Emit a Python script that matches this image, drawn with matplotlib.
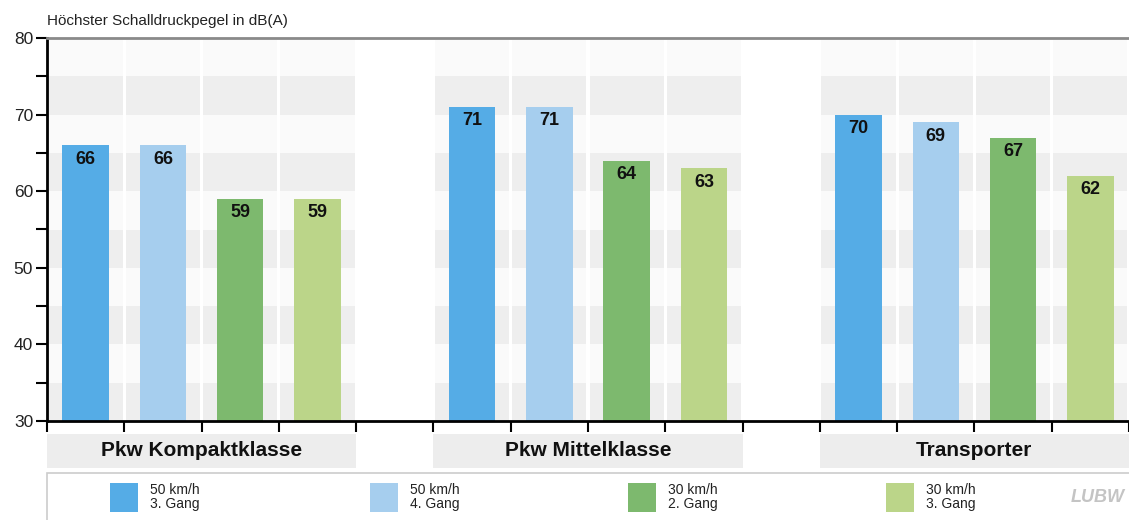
import matplotlib.pyplot as plt
import matplotlib.transforms as mtransforms
from matplotlib.patches import Rectangle
import numpy as np

plt.rcParams['font.family'] = ['Liberation Sans', 'DejaVu Sans']

# Vehicle classes and the four driving conditions
groups = ['Pkw Kompaktklasse', 'Pkw Mittelklasse', 'Transporter']
series_labels = ['50 km/h\n3. Gang', '50 km/h\n4. Gang', '30 km/h\n2. Gang', '30 km/h\n3. Gang']
series_colors = ['#55ACE6', '#A6CEEE', '#7DB96E', '#BBD589']

# Highest sound pressure level in dB(A), one list per condition
speed50_gear3 = [66, 71, 70]
speed50_gear4 = [66, 71, 69]
speed30_gear2 = [59, 64, 67]
speed30_gear3 = [59, 63, 62]
values = [speed50_gear3, speed50_gear4, speed30_gear2, speed30_gear3]

y_min, y_max = 30, 80

fig = plt.figure(figsize=(11.29, 5.2), dpi=100)
ax = fig.add_axes([47 / 1129, 1 - 421 / 520, 1 - 47 / 1129, (421 - 38) / 520])

n_series = len(values)
slots_per_group = n_series + 1          # one empty slot between the groups
group_starts = np.arange(len(groups)) * slots_per_group

# background cells: alternating grey bands in every slot of a group
for g0 in group_starts:
    for s in range(n_series):
        left = g0 + s
        for k, lo in enumerate(range(y_min, y_max, 5)):
            col = '#EEEEEE' if k % 2 == 0 else '#FAFAFA'
            ax.add_patch(Rectangle((left + 0.02, lo), 0.96, 5, facecolor=col,
                                   edgecolor='none', zorder=0))

# bars
bar_w = 0.6
for s in range(n_series):
    xs = group_starts + s + 0.5
    bars = ax.bar(xs, np.array(values[s]) - y_min, bottom=y_min, width=bar_w,
                  color=series_colors[s], zorder=2)
    for b, v in zip(bars, values[s]):
        ax.annotate(f'{v}', (b.get_x() + b.get_width() / 2, v), xytext=(0, -4),
                    textcoords='offset points', ha='center', va='top',
                    fontsize=13, fontweight='bold', color='#111111', zorder=3)

ax.set_ylim(y_min, y_max)
ax.set_xlim(0, 13.94)

# axes styling
ax.spines['right'].set_visible(False)
ax.spines['left'].set_linewidth(2)
ax.spines['bottom'].set_linewidth(2)
ax.spines['top'].set_linewidth(2)
ax.spines['top'].set_color('#8A8A8A')

ax.set_yticks(range(y_min, y_max + 1, 10))
ax.set_yticks(range(y_min + 5, y_max, 10), minor=True)
ax.tick_params(axis='y', which='both', length=8, width=1.5, labelsize=12.5,
               labelcolor='#222222', pad=2)

edges = []
for g0 in group_starts:
    edges.extend(range(g0, g0 + n_series + 1))
ax.set_xticks(edges)
ax.set_xticklabels([])
ax.tick_params(axis='x', length=8, width=1.5, direction='out')

ax.text(0.0, 1.025, 'Höchster Schalldruckpegel in dB(A)', transform=ax.transAxes,
        ha='left', va='bottom', fontsize=11, color='#222222')

# category labels in grey boxes below the axis
trans = mtransforms.blended_transform_factory(ax.transData, fig.transFigure)
for g0, name in zip(group_starts, groups):
    ax.add_patch(Rectangle((g0, 1 - 468 / 520), n_series, 34 / 520, transform=trans,
                           facecolor='#EDEDED', edgecolor='none', clip_on=False))
    ax.text(g0 + n_series / 2, 1 - 451 / 520, name, transform=trans, ha='center',
            va='center', fontsize=15, fontweight='bold', color='#111111')

# legend panel
fig.patches.append(Rectangle((47 / 1129, -0.01), 1.0, 1 - 473 / 520 + 0.01,
                             transform=fig.transFigure, facecolor='white',
                             edgecolor='#CCCCCC', linewidth=1.2))
swatch_x = [110, 370, 628, 886]
for sx, lab, col in zip(swatch_x, series_labels, series_colors):
    fig.patches.append(Rectangle((sx / 1129, 1 - 512 / 520), 28 / 1129, 29 / 520,
                                 transform=fig.transFigure, facecolor=col,
                                 edgecolor='none'))
    fig.text((sx + 40) / 1129, 1 - 497 / 520, lab, ha='left', va='center',
             fontsize=10, color='#222222', linespacing=1.0)

fig.text(1098 / 1129, 1 - 497 / 520, 'LUBW', ha='center', va='center',
         fontsize=13, fontweight='bold', style='italic', color='#C4C4C4')

fig.savefig('out.png', dpi=100)
